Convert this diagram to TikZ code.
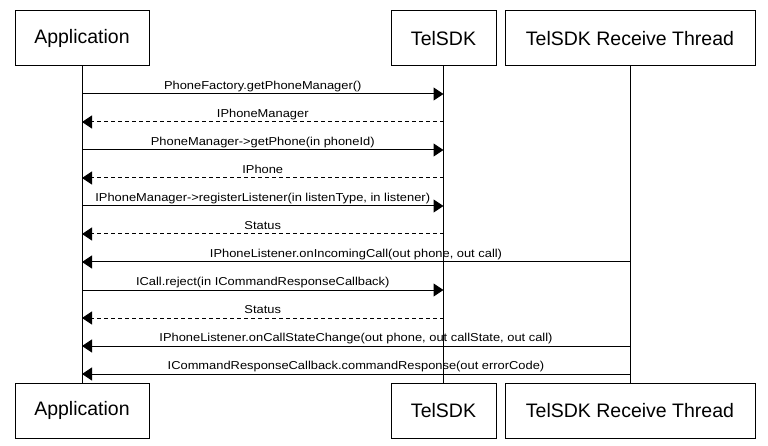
\documentclass[tikz,border=0pt]{standalone}
\usepackage{fontspec}
\setmainfont{Liberation Sans}
\newfontfamily\lblfont[FakeStretch=1.12]{Liberation Sans}
\usetikzlibrary{arrows.meta}
\begin{document}
\begin{tikzpicture}[x=1pt,y=-1pt,
  actor/.style={draw,line width=1pt,minimum height=55pt,inner sep=0pt,font=\fontsize{19.5}{22}\selectfont},
  life/.style={line width=1pt},
  msg/.style={line width=1pt,-{Triangle[length=10pt,width=13pt]}},
  ret/.style={msg,dash pattern=on 4pt off 3pt},
  lbl/.style={anchor=base,yshift=4.5pt,inner sep=0pt,font=\lblfont\fontsize{11.5}{13}\selectfont}
]
\useasboundingbox[fill=white] (0,0) rectangle (768,446);
% top actors
\node[actor,minimum width=134pt] (appT) at (82,38.5) {Application};
\node[actor,minimum width=105pt] (sdkT) at (443.5,38.5) {TelSDK};
\node[actor,minimum width=250pt] (thrT) at (630,38.5) {TelSDK Receive Thread};
% bottom actors
\node[actor,minimum width=134pt] (appB) at (82,410.5) {Application};
\node[actor,minimum width=105pt] (sdkB) at (443.5,410.5) {TelSDK};
\node[actor,minimum width=250pt] (thrB) at (630,410.5) {TelSDK Receive Thread};
% lifelines
\draw[life] (appT.south) -- (appB.north);
\draw[life] (sdkT.south) -- (sdkB.north);
\draw[life] (thrT.south) -- (thrB.north);
% message rows
\coordinate (y1) at (0,94);
\coordinate (y2) at (0,122);
\coordinate (y3) at (0,150);
\coordinate (y4) at (0,178);
\coordinate (y5) at (0,206);
\coordinate (y6) at (0,234);
\coordinate (y7) at (0,262);
\coordinate (y8) at (0,290);
\coordinate (y9) at (0,318);
\coordinate (y10) at (0,346);
\coordinate (y11) at (0,374);
\draw[msg] (appT.south |- y1) -- node[lbl]{PhoneFactory.getPhoneManager()} (sdkT.south |- y1);
\draw[ret] (sdkT.south |- y2) -- node[lbl]{IPhoneManager} (appT.south |- y2);
\draw[msg] (appT.south |- y3) -- node[lbl]{PhoneManager->getPhone(in phoneId)} (sdkT.south |- y3);
\draw[ret] (sdkT.south |- y4) -- node[lbl]{IPhone} (appT.south |- y4);
\draw[msg] (appT.south |- y5) -- node[lbl]{IPhoneManager->registerListener(in listenType, in listener)} (sdkT.south |- y5);
\draw[ret] (sdkT.south |- y6) -- node[lbl]{Status} (appT.south |- y6);
\draw[msg] (thrT.south |- y7) -- node[lbl]{IPhoneListener.onIncomingCall(out phone, out call)} (appT.south |- y7);
\draw[msg] (appT.south |- y8) -- node[lbl]{ICall.reject(in ICommandResponseCallback)} (sdkT.south |- y8);
\draw[ret] (sdkT.south |- y9) -- node[lbl]{Status} (appT.south |- y9);
\draw[msg] (thrT.south |- y10) -- node[lbl]{IPhoneListener.onCallStateChange(out phone, out callState, out call)} (appT.south |- y10);
\draw[msg] (thrT.south |- y11) -- node[lbl]{ICommandResponseCallback.commandResponse(out errorCode)} (appT.south |- y11);
\end{tikzpicture}
\end{document}
